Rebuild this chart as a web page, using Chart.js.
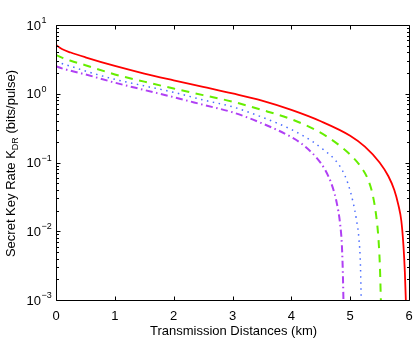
<!DOCTYPE html>
<html><head><meta charset="utf-8">
<script src="https://cdn.jsdelivr.net/npm/chart.js@4.4.0/dist/chart.umd.min.js"></script>
<style>html,body{margin:0;padding:0;background:#fff;}#wrap{width:415px;height:341px;position:relative;}</style>
</head><body><div id="wrap"><canvas id="c"></canvas></div>
<script>
// ---- data ----
const xTickValues = [0, 1, 2, 3, 4, 5, 6];
const yTickExponents = [-3, -2, -1, 0, 1];
const xTitle = 'Transmission Distances (km)';
const yTitleMain = 'Secret Key Rate K';
const yTitleSub = 'DR';
const yTitleTail = ' (bits/pulse)';

const redX = [0, 0.1, 0.25, 0.5, 1, 1.5, 2, 2.5, 3, 3.5, 4, 4.5, 5, 5.25, 5.5, 5.65, 5.75, 5.82, 5.87, 5.905, 5.93, 5.95];
const redY = [5.13, 4.47, 3.98, 3.39, 2.54, 1.97, 1.57, 1.26, 1.01, 0.794, 0.582, 0.398, 0.245, 0.170, 0.100, 0.0631, 0.0398, 0.0240, 0.0141, 0.0063, 0.0025, 0.00079];

const greenX = [0, 0.1, 0.25, 0.5, 1, 1.5, 2, 2.5, 3, 3.5, 4, 4.35, 4.6, 4.83, 5.03, 5.18, 5.3, 5.38, 5.44, 5.48, 5.505, 5.525];
const greenY = [3.67, 3.35, 3.02, 2.60, 1.91, 1.50, 1.19, 0.955, 0.767, 0.582, 0.427, 0.316, 0.240, 0.174, 0.123, 0.0871, 0.0575, 0.0347, 0.0174, 0.00794, 0.00316, 0.00079];

const blueX = [0, 0.1, 0.25, 0.5, 1, 1.5, 2, 2.5, 3, 3.5, 4, 4.35, 4.54, 4.74, 4.87, 4.96, 5.05, 5.11, 5.15, 5.175, 5.19];
const blueY = [2.94, 2.75, 2.51, 2.14, 1.62, 1.30, 1.05, 0.813, 0.646, 0.457, 0.302, 0.204, 0.155, 0.110, 0.0759, 0.0501, 0.0263, 0.0141, 0.00759, 0.00316, 0.00079];

const purpleX = [0, 0.1, 0.25, 0.5, 1, 1.5, 2, 2.5, 3, 3.5, 4, 4.18, 4.43, 4.57, 4.69, 4.77, 4.83, 4.86, 4.877, 4.888];
const purpleY = [2.51, 2.34, 2.16, 1.91, 1.45, 1.135, 0.891, 0.692, 0.537, 0.372, 0.234, 0.186, 0.117, 0.0794, 0.0468, 0.0263, 0.0126, 0.00603, 0.00224, 0.00079];

function pts(xs, ys) { return xs.map((x, i) => ({ x: x, y: ys[i] })); }

const FONT = '"Liberation Sans", Arial, Helvetica, sans-serif';

const axesPlugin = {
  id: 'matlabAxes',
  afterDatasetsDraw(chart) {
    const ctx = chart.ctx, a = chart.chartArea;
    const xs = chart.scales.x, ys = chart.scales.y;
    const L = Math.round(a.left) + 0.5, R = Math.round(a.right) + 0.5;
    const T = Math.round(a.top) + 0.5, B = Math.round(a.bottom) + 0.5;
    ctx.save();
    ctx.strokeStyle = '#000';
    ctx.lineWidth = 1;
    ctx.beginPath();
    ctx.rect(L, T, R - L, B - T);
    ctx.stroke();
    ctx.beginPath();
    xTickValues.forEach(v => {
      const px = Math.round(xs.getPixelForValue(v)) + 0.5;
      ctx.moveTo(px, B); ctx.lineTo(px, B - 4);
      ctx.moveTo(px, T); ctx.lineTo(px, T + 4);
    });
    yTickExponents.forEach(e => {
      const py = Math.round(ys.getPixelForValue(Math.pow(10, e))) + 0.5;
      ctx.moveTo(L, py); ctx.lineTo(L + 4, py);
      ctx.moveTo(R, py); ctx.lineTo(R - 4, py);
      if (e < 1) {
        for (let m = 2; m <= 9; m++) {
          const qy = Math.round(ys.getPixelForValue(m * Math.pow(10, e))) + 0.5;
          ctx.moveTo(L, qy); ctx.lineTo(L + 2.5, qy);
          ctx.moveTo(R, qy); ctx.lineTo(R - 2.5, qy);
        }
      }
    });
    ctx.stroke();
    ctx.restore();
  },
  afterDraw(chart) {
    const ctx = chart.ctx, a = chart.chartArea;
    const xs = chart.scales.x, ys = chart.scales.y;
    ctx.save();
    ctx.fillStyle = '#000';
    ctx.font = '13px ' + FONT;
    ctx.textAlign = 'center';
    ctx.textBaseline = 'alphabetic';
    xTickValues.forEach(v => {
      ctx.fillText(String(v), xs.getPixelForValue(v), 319.5);
    });
    ctx.textAlign = 'left';
    yTickExponents.forEach(e => {
      const py = ys.getPixelForValue(Math.pow(10, e));
      ctx.font = '13px ' + FONT;
      ctx.fillText('10', 26.5, py + 4.5);
      const w = ctx.measureText('10').width;
      ctx.font = '9px ' + FONT;
      ctx.fillText(e < 0 ? '\u2212' + Math.abs(e) : String(e), 26.5 + w + 0.5, py - 2);
    });
    ctx.font = '13px ' + FONT;
    ctx.textAlign = 'center';
    ctx.fillText(xTitle, (a.left + a.right) / 2 + 1, 334.5);
    ctx.translate(15, (a.top + a.bottom) / 2 + 1);
    ctx.rotate(-Math.PI / 2);
    ctx.textAlign = 'left';
    ctx.font = '13px ' + FONT;
    const w1 = ctx.measureText(yTitleMain).width;
    const w3 = ctx.measureText(yTitleTail).width;
    ctx.font = '9px ' + FONT;
    const w2 = ctx.measureText(yTitleSub).width;
    let x0 = -(w1 + w2 + w3) / 2;
    ctx.font = '13px ' + FONT;
    ctx.fillText(yTitleMain, x0, 0);
    ctx.font = '9px ' + FONT;
    ctx.fillText(yTitleSub, x0 + w1, 3.3);
    ctx.font = '13px ' + FONT;
    ctx.fillText(yTitleTail, x0 + w1 + w2, 0);
    ctx.restore();
  }
};

new Chart(document.getElementById('c'), {
  type: 'line',
  data: {
    datasets: [
      { data: pts(purpleX, purpleY), borderColor: '#b040f4', borderWidth: 2, borderDash: [7, 3.5, 1.5, 3.5] },
      { data: pts(blueX, blueY), borderColor: '#4a6cff', borderWidth: 1.5, borderDash: [1.5, 4.5] },
      { data: pts(greenX, greenY), borderColor: '#66ee00', borderWidth: 2, borderDash: [8, 6.5] },
      { data: pts(redX, redY), borderColor: '#ff0000', borderWidth: 1.8 }
    ]
  },
  options: {
    responsive: true,
    maintainAspectRatio: false,
    animation: false,
    layout: { padding: { left: 56, right: 6, top: 25, bottom: 41 } },
    plugins: { legend: { display: false }, tooltip: { enabled: false } },
    elements: { point: { radius: 0 }, line: { cubicInterpolationMode: 'monotone', fill: false } },
    scales: {
      x: { type: 'linear', min: 0, max: 6, display: false },
      y: { type: 'logarithmic', min: 0.001, max: 10, display: false }
    }
  },
  plugins: [axesPlugin]
});
</script>
</body></html>
